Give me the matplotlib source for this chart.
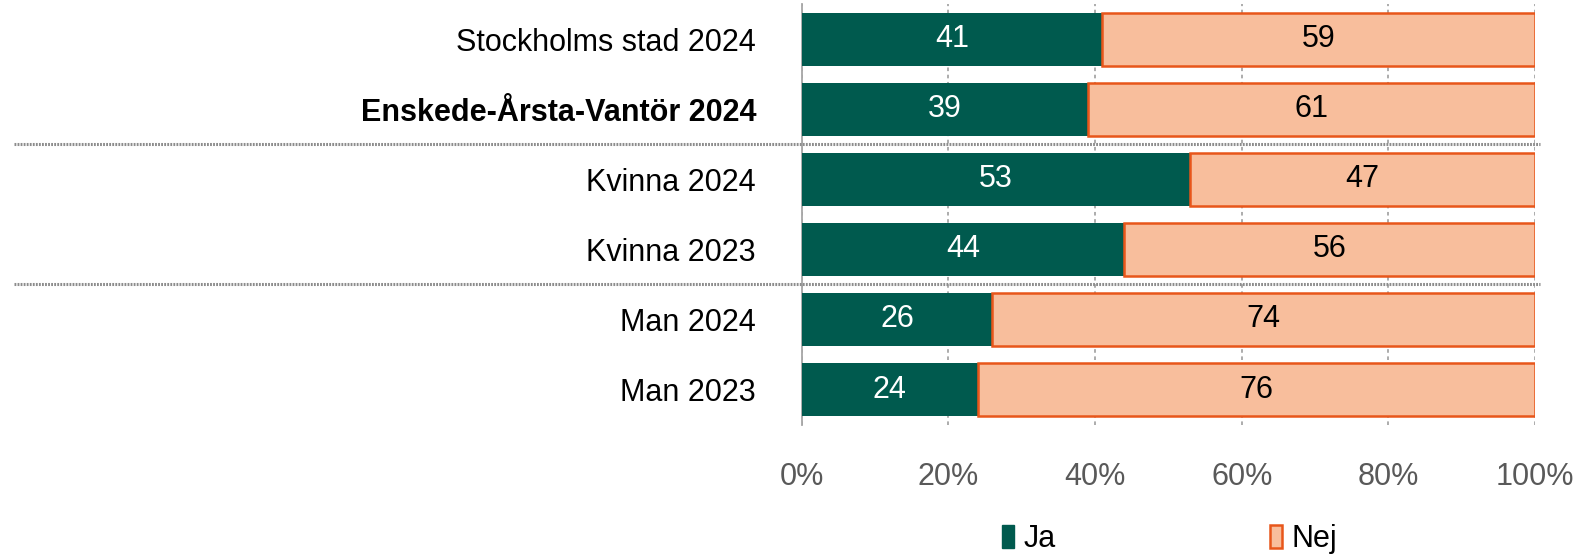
import matplotlib.pyplot as plt
from matplotlib.lines import Line2D
from matplotlib.patches import Patch
from matplotlib.transforms import blended_transform_factory

plt.rcParams['font.family'] = ['Liberation Sans', 'DejaVu Sans']

groups = ['Stockholms stad 2024', 'Enskede-Årsta-Vantör 2024',
          'Kvinna 2024', 'Kvinna 2023', 'Man 2024', 'Man 2023']
ja = [41, 39, 53, 44, 26, 24]
nej = [59, 61, 47, 56, 74, 76]
xticks = [0, 20, 40, 60, 80, 100]
xtick_labels = ['0%', '20%', '40%', '60%', '80%', '100%']

green = '#005A4E'
peach = '#F8BE9C'
orange = '#E8561A'

fig = plt.figure(figsize=(15.91, 5.59), dpi=100)
ax = fig.add_axes([0.504, 0.2406, 0.4608, 0.7514])

y = list(range(len(groups)))
ax.barh(y, ja, height=0.75, color=green, zorder=3)
ax.barh(y, nej, left=ja, height=0.75, color=peach,
        edgecolor=orange, linewidth=1.8, zorder=3)

for i in y:
    ax.text(ja[i] / 2, i, str(ja[i]), ha='center', va='center',
            color='white', fontsize=22, zorder=4)
    ax.text(ja[i] + nej[i] / 2, i, str(nej[i]), ha='center', va='center',
            color='black', fontsize=22, zorder=4)

ax.set_xlim(0, 100)
ax.set_ylim(len(groups) - 0.5, -0.5)
ax.set_yticks(y)
ax.set_yticklabels(groups, fontsize=22)
ax.get_yticklabels()[1].set_fontweight('bold')
ax.set_xticks(xticks)
ax.set_xticklabels(xtick_labels, fontsize=22, color='#595959')
ax.tick_params(axis='y', length=0, pad=33)
ax.tick_params(axis='x', length=0, pad=27)

ax.xaxis.grid(True, color='#A6A6A6', linestyle=(0, (2, 2)), linewidth=1.3, zorder=0)
for side in ['top', 'right', 'bottom']:
    ax.spines[side].set_visible(False)
ax.spines['left'].set_color('#A6A6A6')
ax.spines['left'].set_linewidth(1.3)

# group separators running across the label area
trans = blended_transform_factory(fig.transFigure, ax.transData)
for ysep in [1.5, 3.5]:
    fig.add_artist(Line2D([0.009, 0.968], [ysep, ysep], transform=trans,
                          color='#8C8C8C', linewidth=2.2,
                          linestyle=(0, (0.6, 0.4)), zorder=5))

handles = [Patch(facecolor=green, edgecolor=green),
           Patch(facecolor=peach, edgecolor=orange, linewidth=1.8)]
fig.legend(handles, ['Ja', 'Nej'], loc='center', bbox_to_anchor=(0.735, 0.036),
           ncol=2, frameon=False, fontsize=22, handlelength=0.4,
           handleheight=0.8, handletextpad=0.3, columnspacing=7)

fig.savefig('out.png', dpi=100)
